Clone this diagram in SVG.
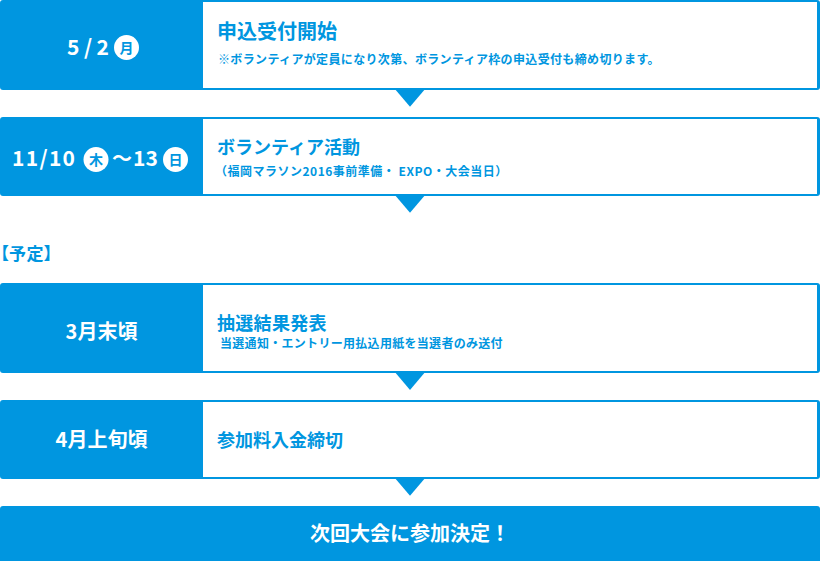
<svg xmlns="http://www.w3.org/2000/svg" width="820" height="561" viewBox="0 0 820 561">
<style>
  text { font-family: "Noto Sans CJK JP", "Noto Sans", sans-serif; font-weight: 700; }
  .outer { fill: #0096e0; }
  .inner { fill: #ffffff; }
  .left { fill: #ffffff; font-size: 20px; text-anchor: middle; }
  .num { fill: #ffffff; font-size: 21px; }
  .badge { fill: #ffffff; }
  .badgetxt { fill: #0096e0; font-size: 14px; text-anchor: middle; }
  .title { fill: #0096e0; font-size: 18px; }
  .sub { fill: #0096e0; font-size: 12px; }
  .arrow { fill: #0096e0; }
  .final { fill: #ffffff; font-size: 20px; text-anchor: middle; }
  .label { fill: #0096e0; font-size: 17px; font-feature-settings: "palt"; }
</style>
<rect width="820" height="561" fill="#ffffff"/>

<g id="row1">
  <rect class="outer" x="0" y="0" width="820" height="90" rx="3"/>
  <rect class="inner" x="203" y="2" width="614" height="86"/>
  <text class="num" x="67" y="55" textLength="42" lengthAdjust="spacing">5/2</text>
  <circle class="badge" cx="126.5" cy="47.5" r="12.5"/>
  <text class="badgetxt" x="126.5" y="52.5">月</text>
  <text class="title" x="217" y="39" style="font-size:20px">申込受付開始</text>
  <text class="sub" x="218" y="64" letter-spacing="0.35">※ボランティアが定員になり次第、ボランティア枠の申込受付も締め切ります。</text>
</g>

<g id="row2">
  <rect class="outer" x="0" y="117" width="820" height="79" rx="3"/>
  <rect class="inner" x="203" y="119" width="614" height="75"/>
  <text class="num" x="12" y="166" textLength="63" lengthAdjust="spacing">11/10</text>
  <circle class="badge" cx="96" cy="159.5" r="12.5"/>
  <text class="badgetxt" x="96" y="164.5">木</text>
  <text class="num" x="112" y="166" style="font-size:20px">～</text>
  <text class="num" x="133" y="166" textLength="25" lengthAdjust="spacing">13</text>
  <circle class="badge" cx="175.5" cy="159.5" r="12.5"/>
  <text class="badgetxt" x="175.5" y="164.5">日</text>
  <text class="title" x="217" y="154">ボランティア活動</text>
  <text class="sub" x="215" y="176" letter-spacing="0.5">（福岡マラソン2016事前準備・ EXPO・大会当日）</text>
</g>

<g id="label-yotei">
  <text class="label" x="0" y="260" letter-spacing="0.5">【予定】</text>
</g>

<g id="row3">
  <rect class="outer" x="0" y="283" width="820" height="90" rx="3"/>
  <rect class="inner" x="203" y="285" width="614" height="86"/>
  <text class="left" x="101.5" y="339">3月末頃</text>
  <text class="title" x="217" y="330" letter-spacing="0.3">抽選結果発表</text>
  <text class="sub" x="220" y="348" letter-spacing="0.3">当選通知・エントリー用払込用紙を当選者のみ送付</text>
</g>

<g id="row4">
  <rect class="outer" x="0" y="400" width="820" height="79" rx="3"/>
  <rect class="inner" x="203" y="402" width="614" height="75"/>
  <text class="left" x="101.5" y="447">4月上旬頃</text>
  <text class="title" x="217" y="447">参加料入金締切</text>
</g>

<g id="final">
  <rect class="outer" x="0" y="506" width="820" height="60" rx="3"/>
  <text class="final" x="410" y="541">次回大会に参加決定！</text>
</g>

<g id="connectors">
  <polygon class="arrow" points="394,88 426,88 410,106.7"/>
  <polygon class="arrow" points="394,194 426,194 410,212.7"/>
  <polygon class="arrow" points="394,371 426,371 410,390"/>
  <polygon class="arrow" points="394,477 426,477 410,495.7"/>
</g>
</svg>
